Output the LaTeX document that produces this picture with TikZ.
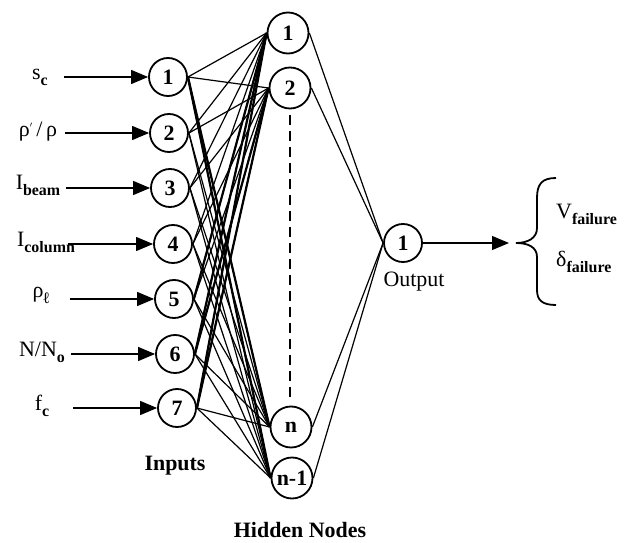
\documentclass[tikz,border=0pt]{standalone}
\usepackage{fontspec}
\setmainfont{Liberation Serif}
\usetikzlibrary{arrows.meta}
\newcommand{\lsub}[1]{\raisebox{-6bp}{\fontsize{16}{16}\selectfont\bfseries #1}}
\begin{document}
\begin{tikzpicture}[x=1bp,y=-1bp,
  neuron/.style={circle,draw,line width=1.8bp,minimum size=38bp,inner sep=0pt,font=\fontsize{22}{22}\selectfont\bfseries},
  hneuron/.style={neuron,minimum size=41bp},
  lbl/.style={font=\fontsize{22}{24}\selectfont,inner sep=0pt},
  conn/.style={line width=1.2bp},
  bconn/.style={line width=2.2bp},
  inarrow/.style={line width=1.2bp,-{Triangle[length=17bp,width=14bp]}}]
\useasboundingbox (0,0) rectangle (635,543);
% input nodes
\node[neuron] (i1) at (168,77) {1};
\node[neuron] (i2) at (169,133) {2};
\node[neuron] (i3) at (170,188) {3};
\node[neuron] (i4) at (173,244) {4};
\node[neuron] (i5) at (174,299) {5};
\node[neuron] (i6) at (175,354) {6};
\node[neuron] (i7) at (177,408) {7};
% hidden nodes
\node[hneuron] (h1) at (288,33) {1};
\node[hneuron] (h2) at (290,88) {2};
\node[hneuron] (hn) at (291,427) {n};
\node[hneuron] (hm) at (292,478) {n-1};
% output
\node[neuron] (o1) at (403,243) {1};
% input labels
\node[lbl] (l1) at (40,77) {s\lsub{c}};
\node[lbl] (l2) at (38,132) {ρ\raisebox{5bp}{\fontsize{12}{12}\selectfont$'$}\,/\,ρ};
\node[lbl] (l3) at (38,185) {I\lsub{beam}};
\node[lbl] (l4) at (46,242) {I\lsub{column}};
\node[lbl] (l5) at (41,295) {ρ\lsub{ℓ}};
\node[lbl] (l6) at (42,352) {N/N\lsub{o}};
\node[lbl] (l7) at (42,406) {f\lsub{c}};
% input arrows
\coordinate (a1) at (64,77); \coordinate (a2) at (65,133);
\coordinate (a3) at (66,188); \coordinate (a4) at (68,244);
\coordinate (a5) at (70,299); \coordinate (a6) at (71,354);
\coordinate (a7) at (73,408);
\foreach \k in {1,...,7} \draw[inarrow] (a\k) -- (i\k.west);
% connections input -> hidden
\foreach \k in {1,...,7} {
  \foreach \h in {h1,h2,hn,hm} {
    \draw[conn] (i\k.east) -- (\h.west);
  }
}
\draw[bconn] (i1.east) -- (hm.west);
\draw[bconn] (i1.east) -- (hn.west);
\draw[bconn] (i7.east) -- (h1.west);
\draw[bconn] (i6.east) -- (h1.west);
\draw[bconn] (i5.east) -- (h1.west);
\draw[bconn] (i7.east) -- (h2.west);
\draw[bconn] (i6.east) -- (h2.west);
% dashed
\draw[line width=2bp,dash pattern=on 10bp off 6bp] (h2.south) ++(0,6) coordinate (d1) -- (290,402) coordinate (d2);
% hidden -> output
\foreach \h in {h1,h2,hn,hm} \draw[conn] (\h.east) -- (o1.west);
% output arrow
\coordinate (oa) at (509,243);
\draw[inarrow] (o1.east) -- (oa);
% brace
\draw[line width=1.8bp] (556,178) .. controls (542,178) and (537,184) .. (537,198)
  -- (537,228) .. controls (537,238) and (528,243) .. (516,243)
  .. controls (528,243) and (537,247) .. (537,257)
  -- (537,290) .. controls (537,300) and (542,305) .. (556,305);
\node[lbl,anchor=west] (v) at (556,214) {V\lsub{failure}};
\node[lbl,anchor=west] (dl) at (556,262) {δ\lsub{failure}};
% other labels
\node[lbl] (inp) at (175,466) {\bfseries Inputs};
\node[lbl] (out) at (414,282) {Output};
\node[lbl] (hid) at (300,530) {\bfseries Hidden Nodes};
\end{tikzpicture}
\end{document}
